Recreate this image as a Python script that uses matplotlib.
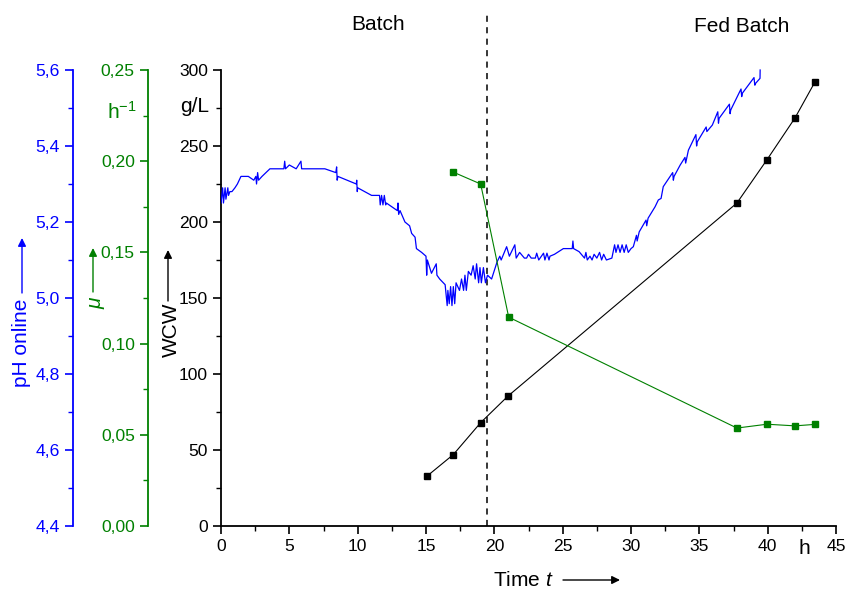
import numpy as np
import matplotlib.pyplot as plt
from matplotlib.ticker import FixedLocator, FuncFormatter

plt.rcParams['font.family'] = ['Liberation Sans', 'DejaVu Sans']
plt.rcParams['mathtext.fontset'] = 'custom'
plt.rcParams['mathtext.rm'] = 'Liberation Sans'
plt.rcParams['mathtext.it'] = 'Liberation Sans:italic'

BLUE = '#0000ff'
GREEN = '#008000'
TICK_FS = 12.6

# wet cell weight, g/L
t_wcw = [15.1, 17.0, 19.0, 21.0, 37.75, 39.95, 42.0, 43.45]
wcw = [33, 47, 68, 85.5, 212.5, 241, 268.5, 292]

# specific growth rate, 1/h
t_mu = [17.0, 19.0, 21.05, 37.75, 39.95, 42.0, 43.45]
mu = [0.194, 0.1875, 0.1145, 0.0537, 0.0558, 0.0549, 0.0557]

# online pH
t_ph = [0.00, 0.12, 0.18, 0.30, 0.36, 0.50, 0.55, 0.65, 0.80, 1.02, 1.20, 1.46,
        2.00, 2.40, 2.55, 2.60, 2.68, 2.75, 3.00, 3.58, 4.60, 4.66, 4.72, 5.00,
        5.50, 5.85, 5.90, 7.60, 8.40, 8.46, 8.50, 8.55, 9.90, 9.93, 9.97, 10.00,
        11.02, 11.60, 11.65, 11.75, 11.85, 11.95, 12.05, 12.10, 12.90, 12.95,
        13.00, 13.10, 13.46, 13.80, 13.95, 14.20, 14.30, 14.68, 15.00, 15.05,
        15.10, 15.40, 15.75, 15.80, 16.00, 16.40, 16.55, 16.60, 16.70, 16.80,
        16.90, 17.00, 17.10, 17.20, 17.45, 17.60, 17.75, 17.85, 17.95, 18.10,
        18.30, 18.45, 18.60, 18.70, 18.85, 18.95, 19.05, 19.20, 19.35, 19.50,
        19.80, 20.20, 20.40, 20.50, 20.90, 21.10, 21.50, 21.60, 21.85, 22.20,
        22.36, 22.50, 22.70, 23.00, 23.10, 23.25, 23.60, 23.70, 23.85, 24.00,
        24.07, 24.40, 25.05, 25.70, 25.75, 25.80, 26.20, 26.60, 26.70, 26.80,
        27.00, 27.15, 27.30, 27.50, 27.70, 27.85, 28.00, 28.20, 28.60, 28.80,
        28.90, 29.05, 29.20, 29.35, 29.50, 29.65, 29.80, 30.00, 30.17, 30.40,
        30.45, 30.60, 31.10, 31.15, 31.25, 31.76, 32.00, 32.20, 32.36, 33.05,
        33.10, 33.15, 33.60, 33.95, 34.00, 34.20, 34.75, 34.80, 34.85, 35.50,
        35.55, 35.95, 36.35, 36.40, 36.45, 37.20, 37.25, 37.30, 38.05, 38.10,
        38.15, 39.00, 39.06, 39.12, 39.44, 39.45]
ph = [5.250, 5.290, 5.250, 5.290, 5.260, 5.290, 5.270, 5.280, 5.280, 5.290, 5.300, 5.320,
      5.320, 5.310, 5.320, 5.300, 5.330, 5.310, 5.320, 5.340, 5.340, 5.360, 5.340, 5.350,
      5.340, 5.360, 5.340, 5.340, 5.330, 5.345, 5.310, 5.320, 5.300, 5.310, 5.280, 5.290,
      5.270, 5.270, 5.245, 5.270, 5.245, 5.270, 5.245, 5.250, 5.230, 5.250,
      5.220, 5.230, 5.200, 5.190, 5.170, 5.160, 5.130, 5.120, 5.110, 5.060,
      5.100, 5.065, 5.090, 5.060, 5.050, 5.035, 4.980, 5.020, 4.985, 5.030,
      4.980, 5.030, 4.985, 5.040, 5.020, 5.050, 5.020, 5.060, 5.020, 5.070,
      5.060, 5.085, 5.050, 5.090, 5.040, 5.080, 5.040, 5.080, 5.040, 5.060,
      5.050, 5.095, 5.110, 5.100, 5.135, 5.110, 5.140, 5.105, 5.120, 5.105,
      5.105, 5.115, 5.105, 5.105, 5.118, 5.100, 5.118, 5.100, 5.118, 5.100,
      5.110, 5.115, 5.130, 5.130, 5.150, 5.130, 5.122, 5.105, 5.120, 5.100,
      5.110, 5.100, 5.115, 5.105, 5.120, 5.100, 5.115, 5.100, 5.105, 5.140,
      5.120, 5.140, 5.120, 5.140, 5.120, 5.140, 5.120, 5.130, 5.135, 5.165,
      5.150, 5.174, 5.205, 5.190, 5.210, 5.240, 5.258, 5.262, 5.293, 5.330,
      5.310, 5.320, 5.350, 5.370, 5.355, 5.389, 5.430, 5.400, 5.411, 5.450,
      5.438, 5.455, 5.490, 5.460, 5.473, 5.510, 5.485, 5.495, 5.550, 5.530,
      5.539, 5.580, 5.560, 5.565, 5.578, 5.600]

fig = plt.figure(figsize=(8.48, 5.9), dpi=100)
W, H = 848, 590
ax = fig.add_axes([221 / W, 64 / H, 615 / W, 514 / H])

ax.plot(t_wcw, wcw, color='black', lw=0.8, marker='s', ms=4.5)
ax.set_xlim(0, 45)
ax.set_ylim(0, 338.2)
ax.axvline(19.46, ymin=0, ymax=0.996, color='black', lw=1.1, ls=(0, (4, 3.5)))

for s in ['top', 'right']:
    ax.spines[s].set_visible(False)
ax.spines['left'].set_bounds(0, 300)
ax.spines['left'].set_linewidth(1.3)
ax.spines['bottom'].set_linewidth(1.3)
ax.xaxis.set_major_locator(FixedLocator(np.arange(0, 46, 5)))
ax.xaxis.set_minor_locator(FixedLocator(np.arange(2.5, 45, 5)))
ax.yaxis.set_major_locator(FixedLocator(np.arange(0, 301, 50)))
ax.yaxis.set_minor_locator(FixedLocator(np.arange(25, 300, 50)))
ax.tick_params(which='major', direction='out', length=6, width=1.2, labelsize=TICK_FS)
ax.tick_params(which='minor', direction='out', length=3.5, width=1.0)

# pH axis
ax_ph = ax.twinx()
ax_ph.plot(t_ph, ph, color=BLUE, lw=0.9)
ax_ph.set_ylim(4.4, 4.4 + 514 / 380)
for s in ['top', 'right', 'bottom']:
    ax_ph.spines[s].set_visible(False)
ax_ph.spines['left'].set_visible(True)
ax_ph.spines['left'].set_position(('axes', -148 / 615))
ax_ph.spines['left'].set_bounds(4.4, 5.6)
ax_ph.spines['left'].set_color(BLUE)
ax_ph.spines['left'].set_linewidth(1.3)
ax_ph.yaxis.set_ticks_position('left')
ax_ph.yaxis.set_major_locator(FixedLocator(np.arange(4.4, 5.61, 0.2)))
ax_ph.yaxis.set_minor_locator(FixedLocator(np.arange(4.5, 5.6, 0.2)))
ax_ph.yaxis.set_major_formatter(FuncFormatter(lambda v, p: f'{v:.1f}'.replace('.', ',')))
ax_ph.tick_params(which='major', direction='out', length=6, width=1.2, labelsize=TICK_FS,
                  colors=BLUE)
ax_ph.tick_params(which='minor', direction='out', length=3.5, width=1.0, colors=BLUE)

# growth rate axis
ax_mu = ax.twinx()
ax_mu.plot(t_mu, mu, color=GREEN, lw=0.8, marker='s', ms=4.5)
ax_mu.set_ylim(0, 0.25 * 514 / 456)
for s in ['top', 'right', 'bottom']:
    ax_mu.spines[s].set_visible(False)
ax_mu.spines['left'].set_visible(True)
ax_mu.spines['left'].set_position(('axes', -73 / 615))
ax_mu.spines['left'].set_bounds(0, 0.25)
ax_mu.spines['left'].set_color(GREEN)
ax_mu.spines['left'].set_linewidth(1.3)
ax_mu.yaxis.set_ticks_position('left')
ax_mu.yaxis.set_major_locator(FixedLocator(np.arange(0, 0.251, 0.05)))
ax_mu.yaxis.set_minor_locator(FixedLocator(np.arange(0.025, 0.25, 0.05)))
ax_mu.yaxis.set_major_formatter(FuncFormatter(lambda v, p: f'{v:.2f}'.replace('.', ',')))
ax_mu.tick_params(which='major', direction='out', length=6, width=1.2, labelsize=TICK_FS,
                  colors=GREEN)
ax_mu.tick_params(which='minor', direction='out', length=3.5, width=1.0, colors=GREEN)


def fx(x):
    return x / W


def fy(y):
    return 1 - y / H


def arrow(x0, y0, x1, y1, color):
    fig.add_artist(plt.Annotation('', xy=(fx(x1), fy(y1)), xytext=(fx(x0), fy(y0)),
                                  xycoords='figure fraction',
                                  arrowprops=dict(arrowstyle='-|>', color=color, lw=1.0,
                                                  mutation_scale=12, shrinkA=0, shrinkB=0)))


fig.text(fx(378), fy(25), 'Batch', fontsize=15, ha='center', va='center')
fig.text(fx(742), fy(27), 'Fed Batch', fontsize=15, ha='center', va='center')
fig.text(fx(195), fy(106), 'g/L', fontsize=15, ha='center', va='center')
fig.text(fx(122), fy(112), r'h$^{\mathrm{-1}}$', fontsize=15, ha='center', va='center',
         color=GREEN)
fig.text(fx(804), fy(548), 'h', fontsize=15, ha='center', va='center')

fig.text(fx(22), fy(343), 'pH online', fontsize=15, rotation=90, ha='center', va='center',
         color=BLUE)
arrow(22, 293, 22, 238, BLUE)
fig.text(fx(96), fy(303), 'μ', fontsize=15, fontstyle='italic', rotation=90,
         ha='center', va='center', color=GREEN)
arrow(93, 292, 93, 248, GREEN)
fig.text(fx(171), fy(330), 'WCW', fontsize=15, rotation=90, ha='center', va='center')
arrow(168, 301, 168, 250, 'black')
fig.text(fx(493), fy(580), r'Time $t$', fontsize=15, ha='left', va='center')
arrow(563, 580, 620, 580, 'black')

plt.savefig('out.png', dpi=100)
